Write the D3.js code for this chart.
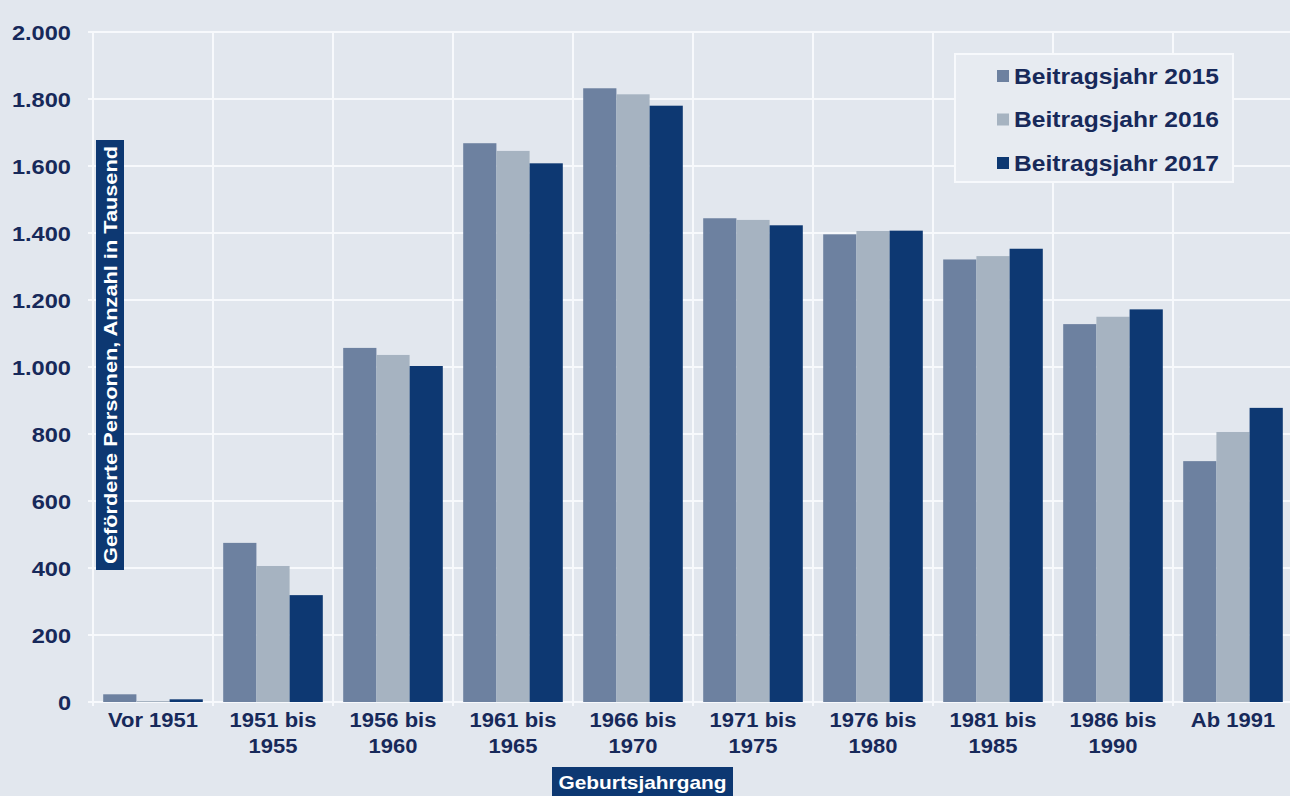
<!DOCTYPE html>
<html lang="de">
<head>
<meta charset="utf-8">
<script src="https://cdn.jsdelivr.net/npm/d3@7"></script>
<style>
  html, body { margin: 0; padding: 0; background: #e2e7ee; }
  svg { display: block; }
  text { font-family: "Liberation Sans", Arial, sans-serif; font-weight: bold; }
</style>
</head>
<body>
<svg id="chart" width="1290" height="796"></svg>
<script>
// Geförderte Personen nach Geburtsjahrgang (Anzahl in Tausend)
const categories = [
  ["Vor 1951"],
  ["1951 bis", "1955"],
  ["1956 bis", "1960"],
  ["1961 bis", "1965"],
  ["1966 bis", "1970"],
  ["1971 bis", "1975"],
  ["1976 bis", "1980"],
  ["1981 bis", "1985"],
  ["1986 bis", "1990"],
  ["Ab 1991"]
];
const seriesNames = ["Beitragsjahr 2015", "Beitragsjahr 2016", "Beitragsjahr 2017"];
const values2015 = [23, 475, 1057, 1668, 1832, 1444, 1396, 1321, 1128, 719];
const values2016 = [3, 406, 1036, 1645, 1814, 1439, 1406, 1331, 1150, 806];
const values2017 = [8, 319, 1003, 1608, 1780, 1423, 1407, 1353, 1172, 878];
const yTicks = [0, 200, 400, 600, 800, 1000, 1200, 1400, 1600, 1800, 2000];
const yTickLabels = ["0", "200", "400", "600", "800", "1.000", "1.200", "1.400", "1.600", "1.800", "2.000"];
const colors = ["#6d81a0", "#a6b3c1", "#0d3872"];

const allSeries = [values2015, values2016, values2017];
const textColor = "#17295a";

// widens a text (or tspan) horizontally by the given factor
function widen(sel, factor) {
  sel.each(function () {
    const len = this.getComputedTextLength();
    d3.select(this)
      .attr("textLength", len * factor)
      .attr("lengthAdjust", "spacingAndGlyphs");
  });
}

const svg = d3.select("#chart");
const W = 1290, H = 796;

svg.append("rect").attr("width", W).attr("height", H).attr("fill", "#e2e7ee");

const x0 = d3.scaleBand()
  .domain(d3.range(categories.length))
  .range([93, 1293])
  .paddingInner(0.17)
  .paddingOuter(0.085);

const x1 = d3.scaleBand()
  .domain(d3.range(seriesNames.length))
  .range([0, x0.bandwidth()]);

const y = d3.scaleLinear().domain([0, 2000]).range([702, 32]);

// Gitter
const grid = svg.append("g");
grid.selectAll("line.h").data(yTicks).join("line")
  .attr("class", "h")
  .attr("x1", 88).attr("x2", 1290)
  .attr("y1", d => y(d)).attr("y2", d => y(d))
  .attr("stroke", "#f7f9fc").attr("stroke-width", 2);

const step = x0.step();
const bounds = d3.range(categories.length + 1).map(i => x0.range()[0] + i * step);
grid.selectAll("line.v").data(bounds).join("line")
  .attr("class", "v")
  .attr("x1", d => d).attr("x2", d => d)
  .attr("y1", y(2000)).attr("y2", y(0) + 4)
  .attr("stroke", "#f7f9fc").attr("stroke-width", 2);

// Balken
const groups = svg.append("g").selectAll("g").data(categories).join("g")
  .attr("transform", (d, i) => `translate(${x0(i)},0)`);

groups.selectAll("rect")
  .data((d, i) => allSeries.map((s, k) => ({ k, v: s[i] })))
  .join("rect")
  .attr("x", d => x1(d.k))
  .attr("width", x1.bandwidth())
  .attr("y", d => y(d.v))
  .attr("height", d => y(0) - y(d.v))
  .attr("fill", d => colors[d.k]);

// Y-Achse
const yAxis = d3.axisLeft(y)
  .tickValues(yTicks)
  .tickFormat((d, i) => yTickLabels[i])
  .tickSize(0)
  .tickPadding(0);

const yg = svg.append("g").attr("transform", "translate(71,0)").call(yAxis);
yg.select(".domain").remove();
yg.selectAll("text")
  .attr("fill", textColor)
  .attr("font-size", 20)
  .attr("font-family", "Liberation Sans, Arial, sans-serif")
  .attr("font-weight", "bold")
  .attr("dy", "0.36em")
  .call(widen, 1.18);

// X-Achse
const xAxis = d3.axisBottom(x0).tickSize(0).tickFormat(() => "");
const xg = svg.append("g").attr("transform", `translate(0,${y(0)})`).call(xAxis);
xg.select(".domain").remove();
xg.selectAll(".tick text").remove();
xg.selectAll(".tick").append("text")
  .attr("fill", textColor)
  .attr("font-size", 20)
  .attr("font-family", "Liberation Sans, Arial, sans-serif")
  .attr("font-weight", "bold")
  .attr("text-anchor", "middle")
  .selectAll("tspan")
  .data(i => categories[i])
  .join("tspan")
  .attr("x", 0)
  .attr("y", (d, j) => 25 + j * 26)
  .text(d => d)
  .call(widen, 1.1);

// Y-Achsentitel
const yTitle = svg.append("g");
yTitle.append("rect")
  .attr("x", 96).attr("y", 140).attr("width", 28).attr("height", 430)
  .attr("fill", "#0d3872");
yTitle.append("text")
  .attr("transform", "translate(117,355) rotate(-90)")
  .attr("text-anchor", "middle")
  .attr("fill", "#ffffff")
  .attr("font-size", 18)
  .attr("textLength", 418)
  .attr("lengthAdjust", "spacingAndGlyphs")
  .text("Geförderte Personen,  Anzahl in Tausend");

// X-Achsentitel
const xTitle = svg.append("g");
xTitle.append("rect")
  .attr("x", 552).attr("y", 767).attr("width", 181).attr("height", 29)
  .attr("fill", "#0d3872");
xTitle.append("text")
  .attr("x", 642.5).attr("y", 789)
  .attr("text-anchor", "middle")
  .attr("fill", "#ffffff")
  .attr("font-size", 19)
  .attr("textLength", 168)
  .attr("lengthAdjust", "spacingAndGlyphs")
  .text("Geburtsjahrgang");

// Legende
const legend = svg.append("g");
legend.append("rect")
  .attr("x", 955).attr("y", 54).attr("width", 278).attr("height", 128)
  .attr("fill", "#e7ebf1").attr("stroke", "#f7f9fc").attr("stroke-width", 2);
const items = legend.selectAll("g").data(seriesNames).join("g")
  .attr("transform", (d, i) => `translate(997,${76 + i * 43.5})`);
items.append("rect")
  .attr("x", 0).attr("y", -6).attr("width", 12).attr("height", 12)
  .attr("fill", (d, i) => colors[i]);
items.append("text")
  .attr("x", 17).attr("y", 0).attr("dy", "0.36em")
  .attr("fill", textColor)
  .attr("font-size", 22)
  .attr("textLength", 205)
  .attr("lengthAdjust", "spacingAndGlyphs")
  .text(d => d);
</script>
</body>
</html>
